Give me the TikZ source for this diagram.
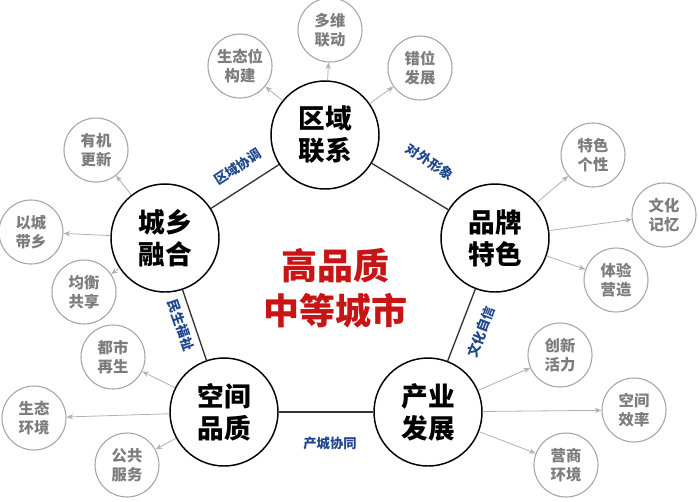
\documentclass[tikz,border=0pt]{standalone}
\usepackage{fontspec}
\setmainfont{Noto Sans CJK SC}
\usetikzlibrary{arrows.meta}
\definecolor{lblue}{RGB}{30,70,140}
\definecolor{sgray}{RGB}{125,125,125}
\definecolor{hred}{RGB}{200,20,20}
\begin{document}
\begin{tikzpicture}[x=0.75pt,y=-0.75pt,
 big/.style={circle,draw=black,line width=1.1pt,fill=white,minimum size=81pt,inner sep=0pt,font=\fontsize{20}{24}\selectfont\bfseries,align=center},
 small/.style={circle,draw=sgray!70,line width=0.8pt,fill=white,minimum size=48pt,inner sep=0pt,font=\fontsize{11.5}{14}\selectfont\bfseries,text=sgray,align=center},
 arr/.style={draw=sgray!60,line width=0.6pt,-{Stealth[length=5pt,width=4pt]}},
 lab/.style={font=\fontsize{10}{11}\selectfont\bfseries,text=lblue},
 link/.style={draw=black!80,line width=1pt}]
\useasboundingbox (0,0) rectangle (699,501);
\node[big] (A) at (325,135) {区域\\联系};
\node[big] (B) at (495,238) {品牌\\特色};
\node[big] (C) at (428,412) {产业\\发展};
\node[big] (D) at (224,412) {空间\\品质};
\node[big] (E) at (165,238) {城乡\\融合};
\draw[link] (E) -- (A);
\draw[link] (A) -- (B);
\draw[link] (B) -- (C);
\draw[link] (C) -- (D);
\draw[link] (D) -- (E);
\node[lab,rotate=33] (l1) at (238,167) {区域协调};
\node[lab,rotate=-33] (l2) at (430,162) {对外形象};
\node[lab,rotate=69] (l3) at (481,332) {文化自信};
\node[lab] (l4) at (330,443) {产城协同};
\node[lab,rotate=-71] (l5) at (181,325) {民生福祉};
\node[font=\fontsize{27}{34}\selectfont\bfseries,text=hred,align=center] (T) at (335,288) {高品质\\中等城市};
\node[small] (a1) at (240,66) {生态位\\构建};
\node[small] (a2) at (330,30) {多维\\联动};
\node[small] (a3) at (420,68) {错位\\发展};
\node[small] (b1) at (593,155) {特色\\个性};
\node[small] (b2) at (664,215) {文化\\记忆};
\node[small] (b3) at (616,280) {体验\\营造};
\node[small] (c1) at (560,355) {创新\\活力};
\node[small] (c2) at (634,410) {空间\\效率};
\node[small] (c3) at (566,465) {营商\\环境};
\node[small] (d1) at (113,357) {都市\\再生};
\node[small] (d2) at (34,418) {生态\\环境};
\node[small] (d3) at (127,465) {公共\\服务};
\node[small] (e1) at (96,150) {有机\\更新};
\node[small] (e2) at (31,232) {以城\\带乡};
\node[small] (e3) at (84,292) {均衡\\共享};
\foreach \s/\t in {A/a1,A/a2,A/a3,B/b1,B/b2,B/b3,C/c1,C/c2,C/c3,D/d1,D/d2,D/d3,E/e1,E/e2,E/e3}
  \draw[arr] (\s) -- (\t);
\end{tikzpicture}
\end{document}
